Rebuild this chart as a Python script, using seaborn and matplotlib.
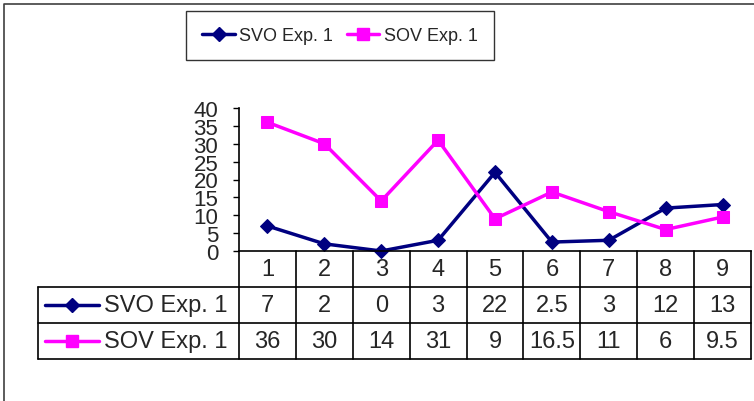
import matplotlib
matplotlib.use("Agg")
import matplotlib.pyplot as plt
from matplotlib.lines import Line2D
import pandas as pd
import seaborn as sns

# chart data
categories = ["1", "2", "3", "4", "5", "6", "7", "8", "9"]
svo_exp1 = [7, 2, 0, 3, 22, 2.5, 3, 12, 13]
sov_exp1 = [36, 30, 14, 31, 9, 16.5, 11, 6, 9.5]
series_names = ["SVO Exp. 1", "SOV Exp. 1"]
y_ticks = [0, 5, 10, 15, 20, 25, 30, 35, 40]

colors = {"SVO Exp. 1": "#000080", "SOV Exp. 1": "#FF00FF"}
markers = {"SVO Exp. 1": "D", "SOV Exp. 1": "s"}
msizes = {"SVO Exp. 1": 7, "SOV Exp. 1": 8}

sns.set_style("white")
plt.rcParams["font.family"] = ["Liberation Sans", "DejaVu Sans"]

W, H = 754, 402


def box(l, t, r, b):
    # pixel box -> figure fraction rect
    return [l / W, 1 - b / H, (r - l) / W, (b - t) / H]


fig = plt.figure(figsize=(W / 100, H / 100), dpi=100)

# plot area
ax = fig.add_axes(box(239, 109, 751, 252))
pos = list(range(len(categories)))
df = pd.DataFrame({
    "pos": pos * 2,
    "value": svo_exp1 + sov_exp1,
    "series": [series_names[0]] * len(pos) + [series_names[1]] * len(pos),
})
for name in series_names:
    sns.lineplot(data=df[df["series"] == name], x="pos", y="value",
                 color=colors[name], marker=markers[name],
                 markersize=msizes[name], markeredgecolor=colors[name],
                 linewidth=2.5, ax=ax, legend=False, clip_on=False)

ax.set_xlim(-0.5, len(categories) - 0.5)
ax.set_ylim(0, 40)
ax.set_yticks(y_ticks)
ax.set_yticklabels([str(t) for t in y_ticks], fontsize=16)
ax.set_xticks([])
ax.set_xlabel("")
ax.set_ylabel("")
ax.tick_params(axis="y", direction="out", length=4.5, width=1, color="black",
               pad=10.5, left=True)
sns.despine(ax=ax)
for s in ["left", "bottom"]:
    ax.spines[s].set_color("black")
    ax.spines[s].set_linewidth(1.2)

# data table under the plot
unit = 512 / len(categories)  # pixels per category
tax = fig.add_axes(box(38, 252, 751, 360))
x_left = -0.5 - (239 - 38) / unit
x_right = len(categories) - 0.5
tax.set_xlim(x_left, x_right)
tax.set_ylim(0, 3)
tax.axis("off")

lw = 1.2
for i in range(len(categories) + 1):
    tax.plot([i - 0.5, i - 0.5], [0, 3], color="black", lw=lw, clip_on=False)
tax.plot([x_left, x_left], [0, 2], color="black", lw=lw, clip_on=False)
for yy in [0, 1, 2]:
    tax.plot([x_left, x_right], [yy, yy], color="black", lw=lw, clip_on=False)

fs = 17
for i, c in enumerate(categories):
    tax.text(i, 2.5, c, ha="center", va="center", fontsize=fs)
rows = [(series_names[0], svo_exp1, 1.5), (series_names[1], sov_exp1, 0.5)]
for name, vals, yy in rows:
    for i, v in enumerate(vals):
        tax.text(i, yy, f"{v:g}", ha="center", va="center", fontsize=fs)
    k0 = x_left + 7 / unit
    k1 = x_left + 61 / unit
    tax.plot([k0, k1], [yy, yy], color=colors[name], lw=2.5, clip_on=False)
    tax.plot([(k0 + k1) / 2], [yy], color=colors[name], marker=markers[name],
             markersize=msizes[name], clip_on=False)
    tax.text(x_left + 66 / unit, yy, name, ha="left", va="center", fontsize=fs)

# legend at top
handles = [Line2D([], [], color=colors[n], marker=markers[n], lw=2.5,
                  markersize=msizes[n]) for n in series_names]
leg = fig.legend(handles, series_names, loc="center",
                 bbox_to_anchor=(340 / W, 1 - 36.5 / H), ncol=2,
                 frameon=True, fancybox=False, fontsize=13,
                 handlelength=1.8, handletextpad=0.25, columnspacing=0.75,
                 borderpad=0.9)
leg.get_frame().set_edgecolor("black")
leg.get_frame().set_linewidth(1.0)

# outer chart frame
fig.add_artist(Line2D([4 / W, 4 / W, 1], [0, 1 - 5 / H, 1 - 5 / H],
                      transform=fig.transFigure, color="#404040", lw=1.2))

fig.savefig("out.png", dpi=100)
